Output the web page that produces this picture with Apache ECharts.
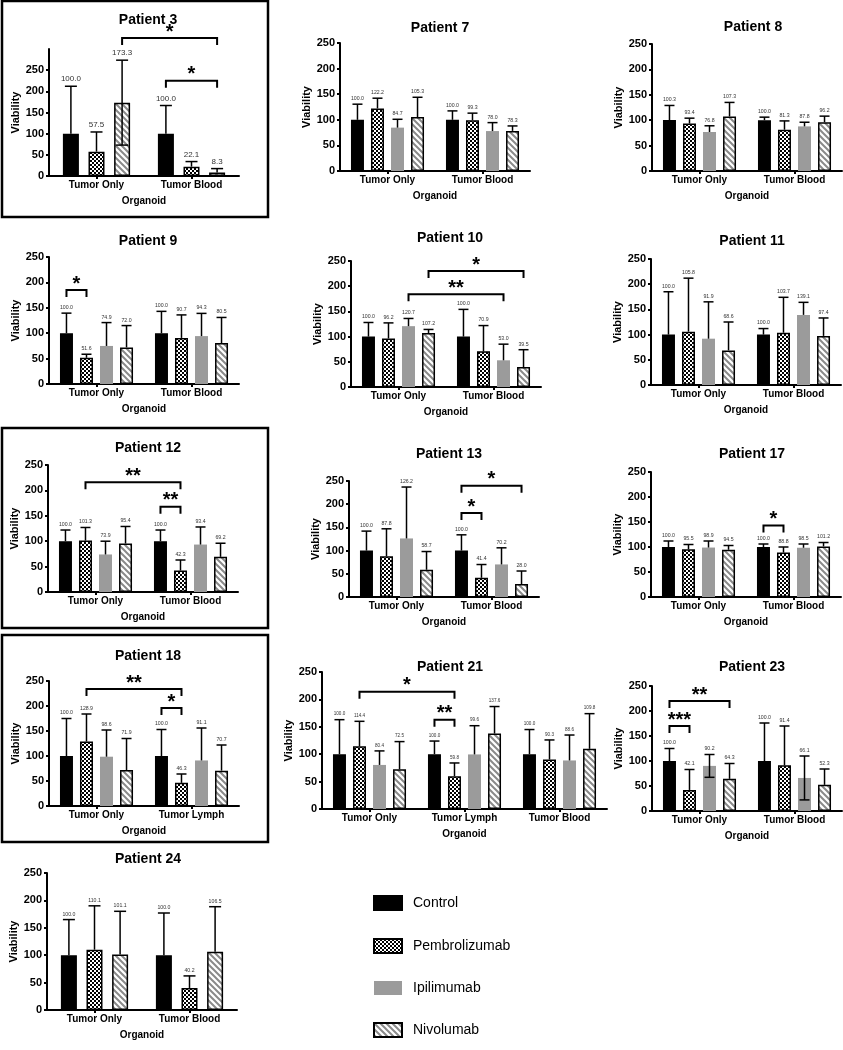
<!DOCTYPE html>
<html><head><meta charset="utf-8">
<script src="https://cdn.jsdelivr.net/npm/echarts@6/dist/echarts.min.js"></script>
<style>html,body{margin:0;padding:0;background:#fff}#c{width:843px;height:1050px}</style>
</head><body><div id="c"></div>
<script>
// ---------------- DATA ----------------
const TREATMENTS = ['Control', 'Pembrolizumab', 'Ipilimumab', 'Nivolumab'];
const CAT_TO = 'Tumor Only', CAT_TB = 'Tumor Blood', CAT_TL = 'Tumor Lymph';

const p3_categories = [CAT_TO, CAT_TB];
const p3_treatments = ['Control', 'Pembrolizumab', 'Nivolumab'];
const p3_means = [[100.0, 57.5, 173.3], [100.0, 22.1, 8.3]];
const p3_sd = [[112, 46.5, 100.3], [66.5, 12, 9.2]];
const p3_lower = [['Tumor Only', 'Nivolumab']];
const p3_sig = [['Tumor Only', 'Nivolumab', 'Tumor Blood', 'Nivolumab', 326, '*'],
                ['Tumor Blood', 'Control', 'Tumor Blood', 'Nivolumab', 225, '*']];

const p7_categories = [CAT_TO, CAT_TB];
const p7_means = [[100.0, 122.2, 84.7, 105.3], [100.0, 99.3, 78.0, 78.3]];
const p7_sd = [[30.5, 20, 16.3, 38.7], [17.4, 13.7, 16.5, 9.7]];

const p8_categories = [CAT_TO, CAT_TB];
const p8_means = [[100.3, 93.4, 76.8, 107.3], [100.0, 81.3, 87.8, 96.2]];
const p8_sd = [[28.7, 10.6, 12.2, 27.7], [6, 17.3, 8.2, 11.8]];

const p9_categories = [CAT_TO, CAT_TB];
const p9_means = [[100.0, 51.6, 74.9, 72.0], [100.0, 90.7, 94.3, 80.5]];
const p9_sd = [[39.5, 7, 46, 43], [43, 45.3, 44.7, 50.5]];
const p9_sig = [['Tumor Only', 'Control', 'Tumor Only', 'Pembrolizumab', 185, '*']];

const p10_categories = [CAT_TO, CAT_TB];
const p10_means = [[100.0, 96.2, 120.7, 107.2], [100.0, 70.9, 53.0, 39.5]];
const p10_sd = [[28, 31, 15.3, 7], [54, 51, 32, 34.5]];
const p10_sig = [['Tumor Only', 'Ipilimumab', 'Tumor Blood', 'Ipilimumab', 184, '**'],
                 ['Tumor Only', 'Nivolumab', 'Tumor Blood', 'Nivolumab', 230, '*']];

const p11_categories = [CAT_TO, CAT_TB];
const p11_means = [[100.0, 105.8, 91.9, 68.6], [100.0, 103.7, 139.1, 97.4]];
const p11_sd = [[85, 106.2, 73.1, 56.4], [12, 70.3, 24.9, 35.6]];

const p12_categories = [CAT_TO, CAT_TB];
const p12_means = [[100.0, 101.3, 73.9, 95.4], [100.0, 42.3, 93.4, 69.2]];
const p12_sd = [[22, 25.7, 26.1, 33.6], [22, 20.7, 34.6, 26.8]];
const p12_sig = [['Tumor Only', 'Pembrolizumab', 'Tumor Blood', 'Pembrolizumab', 216, '**'],
                 ['Tumor Blood', 'Control', 'Tumor Blood', 'Pembrolizumab', 168, '**']];

const p13_categories = [CAT_TO, CAT_TB];
const p13_means = [[100.0, 87.8, 126.2, 58.7], [100.0, 41.4, 70.2, 28.0]];
const p13_sd = [[42, 59.2, 110.8, 39.3], [34, 28.6, 35.8, 28]];
const p13_sig = [['Tumor Blood', 'Control', 'Tumor Blood', 'Nivolumab', 240, '*'],
                 ['Tumor Blood', 'Control', 'Tumor Blood', 'Pembrolizumab', 181, '*']];

const p17_categories = [CAT_TO, CAT_TB];
const p17_means = [[100.0, 95.5, 98.9, 94.5], [100.0, 88.8, 98.5, 101.2]];
const p17_sd = [[12, 9.5, 13.1, 8.5], [6, 11.2, 7.5, 7.8]];
const p17_sig = [['Tumor Blood', 'Control', 'Tumor Blood', 'Pembrolizumab', 143, '*']];

const p18_categories = [CAT_TO, CAT_TL];
const p18_means = [[100.0, 128.9, 98.6, 71.9], [100.0, 46.3, 91.1, 70.7]];
const p18_sd = [[75, 55.1, 53.4, 63.1], [53, 17.7, 64.9, 51.3]];
const p18_sig = [['Tumor Only', 'Pembrolizumab', 'Tumor Lymph', 'Pembrolizumab', 234, '**'],
                 ['Tumor Lymph', 'Control', 'Tumor Lymph', 'Pembrolizumab', 196, '*']];

const p21_categories = [CAT_TO, CAT_TL, CAT_TB];
const p21_means = [[100.0, 114.4, 80.4, 72.5], [100.0, 59.8, 99.6, 137.6], [100.0, 90.3, 88.6, 109.8]];
const p21_sd = [[63, 45.6, 25.6, 50.5], [24, 24.2, 52.4, 49.4], [45, 35.7, 46.4, 64.2]];
const p21_sig = [['Tumor Only', 'Pembrolizumab', 'Tumor Lymph', 'Pembrolizumab', 214, '*'],
                 ['Tumor Lymph', 'Control', 'Tumor Lymph', 'Pembrolizumab', 163, '**']];

const p23_categories = [CAT_TO, CAT_TB];
const p23_means = [[100.0, 42.1, 90.2, 64.3], [100.0, 91.4, 66.1, 52.3]];
const p23_sd = [[25, 40.9, 22.8, 30.7], [76, 78.6, 43.9, 31.7]];
const p23_lower = [['Tumor Only', 'Ipilimumab'], ['Tumor Blood', 'Ipilimumab']];
const p23_sig = [['Tumor Only', 'Control', 'Tumor Only', 'Nivolumab', 220, '**'],
                 ['Tumor Only', 'Control', 'Tumor Only', 'Pembrolizumab', 170, '***']];

const p24_categories = [CAT_TO, CAT_TB];
const p24_treatments = ['Control', 'Pembrolizumab', 'Nivolumab'];
const p24_means = [[100.0, 110.1, 101.1], [100.0, 40.2, 106.5]];
const p24_sd = [[65, 80, 79], [77, 22, 82]];

const Y_TICKS = [0, 50, 100, 150, 200, 250];

// ---------------- PANELS ----------------
const PANELS = [
  {title: 'Patient 3', cats: p3_categories, trts: p3_treatments, means: p3_means, sd: p3_sd, lower: p3_lower, sig: p3_sig},
  {title: 'Patient 7', cats: p7_categories, trts: TREATMENTS, means: p7_means, sd: p7_sd},
  {title: 'Patient 8', cats: p8_categories, trts: TREATMENTS, means: p8_means, sd: p8_sd},
  {title: 'Patient 9', cats: p9_categories, trts: TREATMENTS, means: p9_means, sd: p9_sd, sig: p9_sig},
  {title: 'Patient 10', cats: p10_categories, trts: TREATMENTS, means: p10_means, sd: p10_sd, sig: p10_sig},
  {title: 'Patient 11', cats: p11_categories, trts: TREATMENTS, means: p11_means, sd: p11_sd},
  {title: 'Patient 12', cats: p12_categories, trts: TREATMENTS, means: p12_means, sd: p12_sd, sig: p12_sig},
  {title: 'Patient 13', cats: p13_categories, trts: TREATMENTS, means: p13_means, sd: p13_sd, sig: p13_sig},
  {title: 'Patient 17', cats: p17_categories, trts: TREATMENTS, means: p17_means, sd: p17_sd, sig: p17_sig},
  {title: 'Patient 18', cats: p18_categories, trts: TREATMENTS, means: p18_means, sd: p18_sd, sig: p18_sig},
  {title: 'Patient 21', cats: p21_categories, trts: TREATMENTS, means: p21_means, sd: p21_sd, sig: p21_sig},
  {title: 'Patient 23', cats: p23_categories, trts: TREATMENTS, means: p23_means, sd: p23_sd, lower: p23_lower, sig: p23_sig},
  {title: 'Patient 24', cats: p24_categories, trts: p24_treatments, means: p24_means, sd: p24_sd}
];

// layout (pixels) per panel, same order
const LAYOUT = [
  {left: 49, top: 49, width: 190, height: 127, max: 300, tx: 143, ty: 17, lf: 8, bw: 16, gap: 60, cap: 6},
  {left: 340, top: 43, width: 190, height: 128, max: 250, tx: 435, ty: 25, lf: 5.2, bw: 13, gap: 54, cap: 5},
  {left: 652, top: 44, width: 190, height: 127, max: 250, tx: 748, ty: 24, lf: 5.2, bw: 13, gap: 54, cap: 5},
  {left: 49, top: 257, width: 190, height: 127, max: 250, tx: 143, ty: 238, lf: 5.2, bw: 13, gap: 54, cap: 5},
  {left: 351, top: 261, width: 190, height: 126, max: 250, tx: 445, ty: 235, lf: 5.2, bw: 13, gap: 54, cap: 5},
  {left: 651, top: 259, width: 190, height: 126, max: 250, tx: 747, ty: 238, lf: 5.2, bw: 13, gap: 54, cap: 5},
  {left: 48, top: 465, width: 190, height: 127, max: 250, tx: 143, ty: 445, lf: 5.2, bw: 13, gap: 54, cap: 5},
  {left: 349, top: 481, width: 190, height: 116, max: 250, tx: 444, ty: 451, lf: 5.2, bw: 13, gap: 54, cap: 5},
  {left: 651, top: 472, width: 190, height: 125, max: 250, tx: 747, ty: 451, lf: 5.2, bw: 13, gap: 54, cap: 5},
  {left: 49, top: 681, width: 190, height: 125, max: 250, tx: 143, ty: 653, lf: 5.2, bw: 13, gap: 54, cap: 5},
  {left: 322, top: 672, width: 285, height: 137, max: 250, tx: 445, ty: 664, lf: 4.6, bw: 13, gap: 54, cap: 5},
  {left: 652, top: 686, width: 190, height: 125, max: 250, tx: 747, ty: 664, lf: 5.2, bw: 13, gap: 54, cap: 5},
  {left: 47, top: 873, width: 190, height: 137, max: 250, tx: 143, ty: 856, lf: 5.2, bw: 16, gap: 60, cap: 6}
];

// ---------------- STYLES ----------------
function checker() {
  const c = document.createElement('canvas'); c.width = 4; c.height = 4;
  const g = c.getContext('2d');
  g.fillStyle = '#000'; g.fillRect(0, 0, 4, 4);
  g.fillStyle = '#fff'; g.fillRect(0, 0, 2, 2); g.fillRect(2, 2, 2, 2);
  return c;
}
function stripes() {
  const c = document.createElement('canvas'); c.width = 6; c.height = 6;
  const g = c.getContext('2d');
  g.fillStyle = '#fff'; g.fillRect(0, 0, 6, 6);
  g.strokeStyle = '#8a8a8a'; g.lineWidth = 2;
  g.beginPath();
  g.moveTo(-6, 0); g.lineTo(6, 12);
  g.moveTo(0, 0); g.lineTo(6, 6);
  g.moveTo(0, -6); g.lineTo(12, 6);
  g.moveTo(-3, -3); g.lineTo(9, 9);
  g.stroke();
  return c;
}
const CHECK = checker(), STRIPE = stripes();
const BAR_STYLE = {
  'Control': {color: '#000', borderColor: '#000', borderWidth: 1.5},
  'Pembrolizumab': {color: {image: CHECK, repeat: 'repeat'}, borderColor: '#000', borderWidth: 1.5},
  'Ipilimumab': {color: '#9b9b9b', borderWidth: 0},
  'Nivolumab': {color: {image: STRIPE, repeat: 'repeat'}, borderColor: '#000', borderWidth: 1.5}
};
const FONT = '"Liberation Sans", Arial, Helvetica, sans-serif';

// ---------------- BUILD ----------------
const grid = [], xAxis = [], yAxis = [], series = [], title = [];

PANELS.forEach((p, i) => {
  const L = LAYOUT[i];
  const n = p.trts.length;
  const pitch = L.bw * (1 + L.gap / 100);
  grid.push({left: L.left, top: L.top, width: L.width, height: L.height, containLabel: false});
  title.push({text: p.title, left: L.tx, top: L.ty - 9, textAlign: 'center',
    textStyle: {fontFamily: FONT, fontWeight: 'bold', fontSize: 14, color: '#000'}});
  xAxis.push({type: 'category', gridIndex: i, data: p.cats, boundaryGap: true,
    name: 'Organoid', nameLocation: 'middle', nameGap: 20,
    nameTextStyle: {fontFamily: FONT, fontWeight: 'bold', fontSize: 10, color: '#000'},
    axisLine: {lineStyle: {color: '#000', width: 2}},
    axisTick: {show: true, alignWithLabel: true, length: 3, lineStyle: {color: '#000', width: 2}},
    axisLabel: {fontFamily: FONT, fontWeight: 'bold', fontSize: 10, color: '#000', margin: 4}});
  yAxis.push({type: 'value', gridIndex: i, min: 0, max: L.max, interval: 50,
    name: 'Viability', nameLocation: 'middle', nameGap: 26,
    nameTextStyle: {fontFamily: FONT, fontWeight: 'bold', fontSize: 11, color: '#000'},
    splitLine: {show: false},
    axisLine: {show: true, lineStyle: {color: '#000', width: 2}},
    axisTick: {show: true, length: 3, lineStyle: {color: '#000', width: 2}, customValues: Y_TICKS},
    axisLabel: {fontFamily: FONT, fontWeight: 'bold', fontSize: 11, color: '#000', margin: 5, customValues: Y_TICKS}});

  p.trts.forEach((t, ti) => {
    series.push({type: 'bar', name: t, xAxisIndex: i, yAxisIndex: i,
      data: p.means.map(row => row[ti]), barWidth: L.bw, barGap: L.gap + '%',
      itemStyle: BAR_STYLE[t], silent: true, animation: false, z: 2});
  });

  const items = [];
  p.cats.forEach((c, ci) => p.trts.forEach((t, ti) => {
    const low = (p.lower || []).some(a => a[0] === c && a[1] === t);
    items.push({c: ci, t: ti, m: p.means[ci][ti], s: p.sd[ci][ti], low: low});
  }));
  series.push({type: 'custom', xAxisIndex: i, yAxisIndex: i, silent: true, animation: false, z: 5, clip: false,
    data: items.map(o => [o.c, o.m + o.s]),
    renderItem: (params, api) => {
      const o = items[params.dataIndex];
      const base = api.coord([o.c, o.m]);
      const x = base[0] + (o.t - (n - 1) / 2) * pitch;
      const yTop = api.coord([o.c, o.m + o.s])[1];
      const yLow = o.low ? api.coord([o.c, o.m - o.s])[1] : base[1];
      const st = {stroke: '#000', lineWidth: 1.5};
      const ch = [
        {type: 'line', shape: {x1: x, y1: yLow, x2: x, y2: yTop}, style: st},
        {type: 'line', shape: {x1: x - L.cap, y1: yTop, x2: x + L.cap, y2: yTop}, style: st},
        {type: 'text', style: {text: o.m.toFixed(1), x: x, y: yTop - 3, align: 'center', verticalAlign: 'bottom',
          font: L.lf + 'px ' + FONT, fill: '#333'}}
      ];
      if (o.low) ch.push({type: 'line', shape: {x1: x - L.cap, y1: yLow, x2: x + L.cap, y2: yLow}, style: st});
      return {type: 'group', children: ch};
    }});

  if (p.sig) {
    const sg = p.sig;
    series.push({type: 'custom', xAxisIndex: i, yAxisIndex: i, silent: true, animation: false, z: 6, clip: false,
      data: sg.map(s => [p.cats.indexOf(s[0]), s[4]]),
      renderItem: (params, api) => {
        const s = sg[params.dataIndex];
        const c1 = p.cats.indexOf(s[0]), c2 = p.cats.indexOf(s[2]);
        const t1 = p.trts.indexOf(s[1]), t2 = p.trts.indexOf(s[3]);
        const a = api.coord([c1, s[4]]), b = api.coord([c2, s[4]]);
        const x1 = a[0] + (t1 - (n - 1) / 2) * pitch;
        const x2 = b[0] + (t2 - (n - 1) / 2) * pitch;
        const y = a[1];
        return {type: 'group', children: [
          {type: 'polyline', shape: {points: [[x1, y + 7], [x1, y], [x2, y], [x2, y + 7]]},
            style: {stroke: '#000', lineWidth: 2, fill: null}},
          {type: 'text', style: {text: s[5], x: (x1 + x2) / 2, y: y + 4, align: 'center', verticalAlign: 'bottom',
            font: 'bold 20px ' + FONT, fill: '#000'}}
        ]};
      }});
  }
});

const boxStyle = {stroke: '#000', lineWidth: 2.5, fill: null};
const option = {
  backgroundColor: '#fff',
  animation: false,
  title: title,
  grid: grid, xAxis: xAxis, yAxis: yAxis, series: series,
  legend: {
    orient: 'vertical', left: 368, top: 890, height: 160, itemWidth: 28, itemHeight: 14, itemGap: 27,
    icon: 'rect', data: TREATMENTS, selectedMode: false,
    textStyle: {fontFamily: FONT, fontSize: 14, color: '#000', padding: [0, 0, 0, 6]}
  },
  graphic: [
    {type: 'rect', shape: {x: 2, y: 1, width: 266, height: 216}, style: boxStyle, silent: true},
    {type: 'rect', shape: {x: 2, y: 428, width: 266, height: 200}, style: boxStyle, silent: true},
    {type: 'rect', shape: {x: 2, y: 635, width: 266, height: 207}, style: boxStyle, silent: true}
  ]
};
const chart = echarts.init(document.getElementById('c'), null, {renderer: 'canvas'});
chart.setOption(option);
</script>
</body></html>
